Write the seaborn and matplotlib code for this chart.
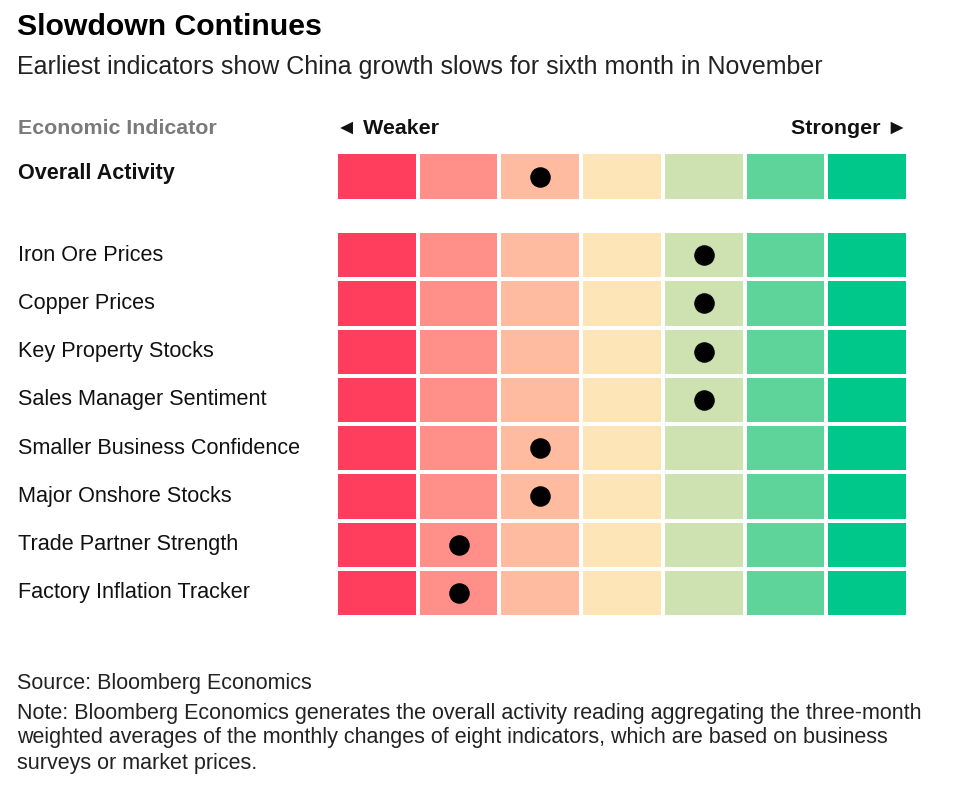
import numpy as np
import matplotlib
matplotlib.use("Agg")
import matplotlib.pyplot as plt
from matplotlib.colors import ListedColormap
import seaborn as sns

# --- data ---
overall_label = "Overall Activity"
overall_position = [2]

indicators = [
    "Iron Ore Prices",
    "Copper Prices",
    "Key Property Stocks",
    "Sales Manager Sentiment",
    "Smaller Business Confidence",
    "Major Onshore Stocks",
    "Trade Partner Strength",
    "Factory Inflation Tracker",
]
positions = [4, 4, 4, 4, 2, 2, 1, 1]  # 0 = weakest ... 6 = strongest

scale_colors = ["#FF3D5C", "#FF8F88", "#FFBBA0", "#FDE5B8",
                "#CDE2B0", "#5FD49A", "#00C78A"]

note_lines = [
    "Note: Bloomberg Economics generates the overall activity reading aggregating the three-month",
    "weighted averages of the monthly changes of eight indicators, which are based on business",
    "surveys or market prices.",
]

sns.set_theme(style="white")
plt.rcParams['font.family'] = ['Liberation Sans', 'DejaVu Sans']

W, H = 960, 788
fig = plt.figure(figsize=(W / 100, H / 100), dpi=100)
cmap = ListedColormap(scale_colors)


def fx(x):
    return x / W


def fy(y):
    return 1 - y / H


def draw_block(rect, pos):
    n = len(pos)
    ax = fig.add_axes(rect)
    grid = np.tile(np.arange(len(scale_colors)), (n, 1))
    sns.heatmap(grid, ax=ax, cmap=cmap, vmin=-0.5, vmax=len(scale_colors) - 0.5,
                cbar=False, linewidths=1.6, linecolor="white",
                xticklabels=False, yticklabels=False)
    ax.scatter(np.array(pos) + 0.5, np.arange(n) + 0.5, s=190, color="black",
               zorder=3)
    ax.tick_params(left=False, bottom=False)
    return ax


left, right = 336, 908
# overall activity block
draw_block([fx(left), fy(201), fx(right - left), 49 / H], overall_position)
# indicator block
top, bottom = 231, 617
draw_block([fx(left), fy(bottom), fx(right - left), (bottom - top) / H], positions)

# titles
fig.text(fx(17), fy(27), "Slowdown Continues", fontsize=21.8, fontweight="bold",
         va="center", ha="left", color="black")
fig.text(fx(17), fy(67), "Earliest indicators show China growth slows for sixth month in November",
         fontsize=18, va="center", ha="left", color="#222222")

# header row
fig.text(fx(18), fy(128), "Economic Indicator", fontsize=15.4, fontweight="bold",
         color="#7a7a7a", va="center", ha="left")
fig.text(fx(left), fy(128), "◄ Weaker", fontsize=15.4, fontweight="bold",
         color="#111111", va="center", ha="left")
fig.text(fx(right), fy(128), "Stronger ►", fontsize=15.4, fontweight="bold",
         color="#111111", va="center", ha="right")

# row labels
fig.text(fx(18), fy(174), overall_label, fontsize=15.6, fontweight="bold",
         color="#111111", va="center", ha="left")
row_h = (bottom - top) / len(indicators)
for i, name in enumerate(indicators):
    fig.text(fx(18), fy(top + row_h * (i + 0.5)), name, fontsize=15.6,
             color="#111111", va="center", ha="left")

# footnotes
fig.text(fx(17), fy(684), "Source: Bloomberg Economics", fontsize=15.5,
         color="#222222", va="center", ha="left")
for i, line in enumerate(note_lines):
    fig.text(fx(17), fy(713 + 25 * i), line, fontsize=15.5,
             color="#222222", va="center", ha="left")

fig.savefig("out.png", dpi=100, facecolor="white")
